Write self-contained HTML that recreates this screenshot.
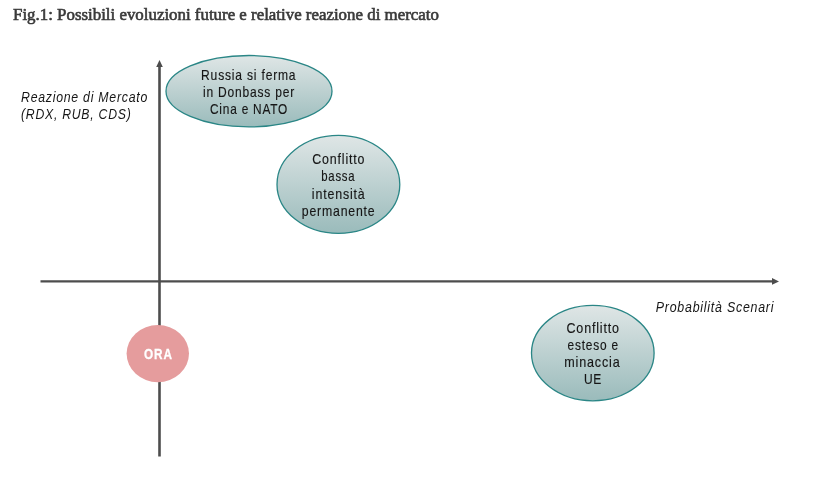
<!DOCTYPE html>
<html><head><meta charset="utf-8">
<style>
html,body{margin:0;padding:0;background:#fff;}
body{width:820px;height:482px;overflow:hidden;position:relative;}
svg{position:absolute;left:0;top:0;will-change:transform;}
</style></head>
<body>
<svg width="820" height="482" viewBox="0 0 820 482">
<defs>
<linearGradient id="g" x1="0" y1="0" x2="0" y2="1">
<stop offset="0" stop-color="#dfe6e6"/>
<stop offset="1" stop-color="#9abbbb"/>
</linearGradient>
</defs>
<line x1="159.5" y1="66" x2="159.5" y2="456.5" stroke="#4d4d4d" stroke-width="2.6"/>
<polygon points="159.5,60 156.2,67 162.8,67" fill="#4d4d4d"/>
<line x1="40.5" y1="281.4" x2="773" y2="281.4" stroke="#4d4d4d" stroke-width="2.4"/>
<polygon points="779,281.4 772,278 772,284.8" fill="#4d4d4d"/>
<ellipse cx="249" cy="91.2" rx="83" ry="35.7" fill="url(#g)" stroke="#2a8686" stroke-width="1.3"/>
<ellipse cx="338.4" cy="184.4" rx="61.4" ry="49" fill="url(#g)" stroke="#2a8686" stroke-width="1.3"/>
<ellipse cx="592.8" cy="353.1" rx="61.3" ry="47.7" fill="url(#g)" stroke="#2a8686" stroke-width="1.3"/>
<ellipse cx="157.8" cy="353.6" rx="31.2" ry="28.6" fill="#e59c9d"/>

<text x="13.00" y="20.30" textLength="425.87" lengthAdjust="spacingAndGlyphs" style='font-family:"Liberation Serif",serif;font-weight:normal;fill:#3a3a3a;stroke:#3a3a3a;stroke-width:0.6px;letter-spacing:0px;font-size:16.6px'>Fig.1: Possibili evoluzioni future e relative reazione di mercato</text>
<text x="201.09" y="79.60" textLength="95.29" lengthAdjust="spacingAndGlyphs" style='font-family:"Liberation Sans",sans-serif;fill:#161616;stroke:#161616;stroke-width:0.15px;letter-spacing:1.0px;font-size:15.0px'>Russia si ferma</text>
<text x="203.00" y="96.90" textLength="92.13" lengthAdjust="spacingAndGlyphs" style='font-family:"Liberation Sans",sans-serif;fill:#161616;stroke:#161616;stroke-width:0.15px;letter-spacing:1.0px;font-size:15.0px'>in Donbass per</text>
<text x="210.00" y="114.20" textLength="78.14" lengthAdjust="spacingAndGlyphs" style='font-family:"Liberation Sans",sans-serif;fill:#161616;stroke:#161616;stroke-width:0.15px;letter-spacing:1.0px;font-size:15.0px'>Cina e NATO</text>
<text x="312.30" y="164.00" textLength="53.05" lengthAdjust="spacingAndGlyphs" style='font-family:"Liberation Sans",sans-serif;fill:#161616;stroke:#161616;stroke-width:0.15px;letter-spacing:1.0px;font-size:15.0px'>Conflitto</text>
<text x="321.24" y="181.30" textLength="34.08" lengthAdjust="spacingAndGlyphs" style='font-family:"Liberation Sans",sans-serif;fill:#161616;stroke:#161616;stroke-width:0.15px;letter-spacing:1.0px;font-size:15.0px'>bassa</text>
<text x="311.87" y="198.60" textLength="53.65" lengthAdjust="spacingAndGlyphs" style='font-family:"Liberation Sans",sans-serif;fill:#161616;stroke:#161616;stroke-width:0.15px;letter-spacing:1.0px;font-size:15.0px'>intensità</text>
<text x="301.78" y="215.90" textLength="73.69" lengthAdjust="spacingAndGlyphs" style='font-family:"Liberation Sans",sans-serif;fill:#161616;stroke:#161616;stroke-width:0.15px;letter-spacing:1.0px;font-size:15.0px'>permanente</text>
<text x="566.50" y="332.90" textLength="53.36" lengthAdjust="spacingAndGlyphs" style='font-family:"Liberation Sans",sans-serif;fill:#161616;stroke:#161616;stroke-width:0.15px;letter-spacing:1.0px;font-size:15.0px'>Conflitto</text>
<text x="567.50" y="349.80" textLength="51.36" lengthAdjust="spacingAndGlyphs" style='font-family:"Liberation Sans",sans-serif;fill:#161616;stroke:#161616;stroke-width:0.15px;letter-spacing:1.0px;font-size:15.0px'>esteso e</text>
<text x="564.26" y="366.80" textLength="56.29" lengthAdjust="spacingAndGlyphs" style='font-family:"Liberation Sans",sans-serif;fill:#161616;stroke:#161616;stroke-width:0.15px;letter-spacing:1.0px;font-size:15.0px'>minaccia</text>
<text x="583.90" y="383.60" textLength="18.27" lengthAdjust="spacingAndGlyphs" style='font-family:"Liberation Sans",sans-serif;fill:#161616;stroke:#161616;stroke-width:0.15px;letter-spacing:1.0px;font-size:15.0px'>UE</text>
<text x="144.00" y="358.70" textLength="28.79" lengthAdjust="spacingAndGlyphs" style='font-family:"Liberation Sans",sans-serif;font-weight:bold;fill:#fff;stroke:#fff;stroke-width:0.3px;letter-spacing:1.1px;font-size:15.0px'>ORA</text>
<text x="21.00" y="101.50" textLength="126.98" lengthAdjust="spacingAndGlyphs" style='font-family:"Liberation Sans",sans-serif;font-style:italic;fill:#161616;letter-spacing:0.9px;font-size:14.8px'>Reazione di Mercato</text>
<text x="21.00" y="118.80" textLength="110.47" lengthAdjust="spacingAndGlyphs" style='font-family:"Liberation Sans",sans-serif;font-style:italic;fill:#161616;letter-spacing:0.9px;font-size:14.8px'>(RDX, RUB, CDS)</text>
<text x="655.80" y="312.00" textLength="118.46" lengthAdjust="spacingAndGlyphs" style='font-family:"Liberation Sans",sans-serif;font-style:italic;fill:#161616;letter-spacing:0.9px;font-size:14.8px'>Probabilità Scenari</text>
</svg>
</body></html>
